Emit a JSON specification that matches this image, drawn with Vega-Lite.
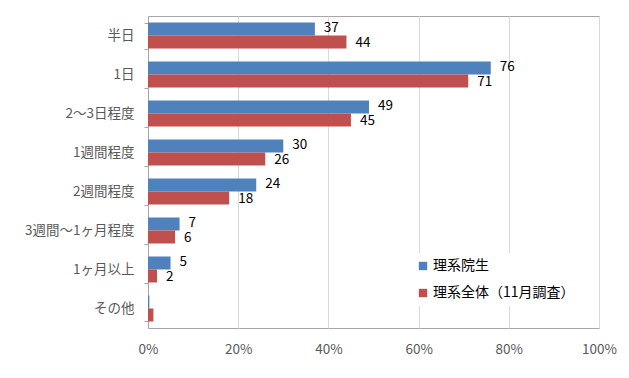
{
  "$schema": "https://vega.github.io/schema/vega-lite/v6.json",
  "autosize": {"type": "none"},
  "padding": {"left": 148, "top": 16, "right": 30, "bottom": 50},
  "width": 451,
  "height": 312,
  "background": "white",
  "config": {
    "font": "Noto Sans CJK JP",
    "view": {"stroke": "#a6a6a6", "strokeWidth": 1}
  },
  "data": {
    "values": [
      {"cat": "半日", "series": "理系院生", "value": 37},
      {"cat": "半日", "series": "理系全体（11月調査）", "value": 44},
      {"cat": "1日", "series": "理系院生", "value": 76},
      {"cat": "1日", "series": "理系全体（11月調査）", "value": 71},
      {"cat": "2〜3日程度", "series": "理系院生", "value": 49},
      {"cat": "2〜3日程度", "series": "理系全体（11月調査）", "value": 45},
      {"cat": "1週間程度", "series": "理系院生", "value": 30},
      {"cat": "1週間程度", "series": "理系全体（11月調査）", "value": 26},
      {"cat": "2週間程度", "series": "理系院生", "value": 24},
      {"cat": "2週間程度", "series": "理系全体（11月調査）", "value": 18},
      {"cat": "3週間〜1ヶ月程度", "series": "理系院生", "value": 7},
      {"cat": "3週間〜1ヶ月程度", "series": "理系全体（11月調査）", "value": 6},
      {"cat": "1ヶ月以上", "series": "理系院生", "value": 5},
      {"cat": "1ヶ月以上", "series": "理系全体（11月調査）", "value": 2},
      {"cat": "その他", "series": "理系院生", "value": 0.3},
      {"cat": "その他", "series": "理系全体（11月調査）", "value": 1.2}
    ]
  },
  "encoding": {
    "y": {
      "field": "cat", "type": "nominal",
      "sort": ["半日", "1日", "2〜3日程度", "1週間程度", "2週間程度", "3週間〜1ヶ月程度", "1ヶ月以上", "その他"],
      "scale": {"paddingInner": 0.333, "paddingOuter": 0.1667},
      "axis": {
        "title": null, "domainColor": "#a6a6a6", "tickColor": "#a6a6a6", "tickSize": 4,
        "tickBand": "extent", "labelPadding": 10, "labelFontSize": 13.5, "labelColor": "#595959",
        "labelFont": "Noto Sans CJK JP"
      }
    },
    "yOffset": {
      "field": "series", "type": "nominal",
      "sort": ["理系院生", "理系全体（11月調査）"]
    },
    "x": {
      "field": "value", "type": "quantitative",
      "scale": {"domain": [0, 100], "nice": false},
      "axis": {
        "title": null, "values": [0, 20, 40, 60, 80, 100], "labelExpr": "datum.value + '%'",
        "grid": true, "gridColor": "#d9d9d9", "domain": false, "ticks": false,
        "labelPadding": 14, "labelFontSize": 13.5, "labelColor": "#595959",
        "labelFont": "Noto Sans CJK JP", "labelFlush": false
      }
    }
  },
  "layer": [
    {
      "mark": {"type": "bar"},
      "encoding": {
        "color": {
          "field": "series", "type": "nominal",
          "scale": {"domain": ["理系院生", "理系全体（11月調査）"], "range": ["#4f81bd", "#c0504d"]},
          "legend": {
            "title": null, "orient": "none", "legendX": 262, "legendY": 237,
            "symbolType": "square", "symbolSize": 70, "symbolStrokeWidth": 0,
            "labelFontSize": 14, "labelColor": "#000000", "labelFont": "Noto Sans CJK JP",
            "rowPadding": 13, "symbolOffset": 0, "labelOffset": 3,
            "fillColor": "white", "padding": 6
          }
        }
      }
    },
    {
      "transform": [{"filter": "datum.cat != 'その他' && datum.series == '理系院生'"}],
      "mark": {"type": "text", "align": "left", "dx": 9, "dy": -1, "fontSize": 13.5, "color": "#000000", "font": "Noto Sans CJK JP"},
      "encoding": {
        "text": {"field": "value", "type": "quantitative"}
      }
    },
    {
      "transform": [{"filter": "datum.cat != 'その他' && datum.series != '理系院生'"}],
      "mark": {"type": "text", "align": "left", "dx": 9, "dy": 1, "fontSize": 13.5, "color": "#000000", "font": "Noto Sans CJK JP"},
      "encoding": {
        "text": {"field": "value", "type": "quantitative"}
      }
    }
  ]
}
